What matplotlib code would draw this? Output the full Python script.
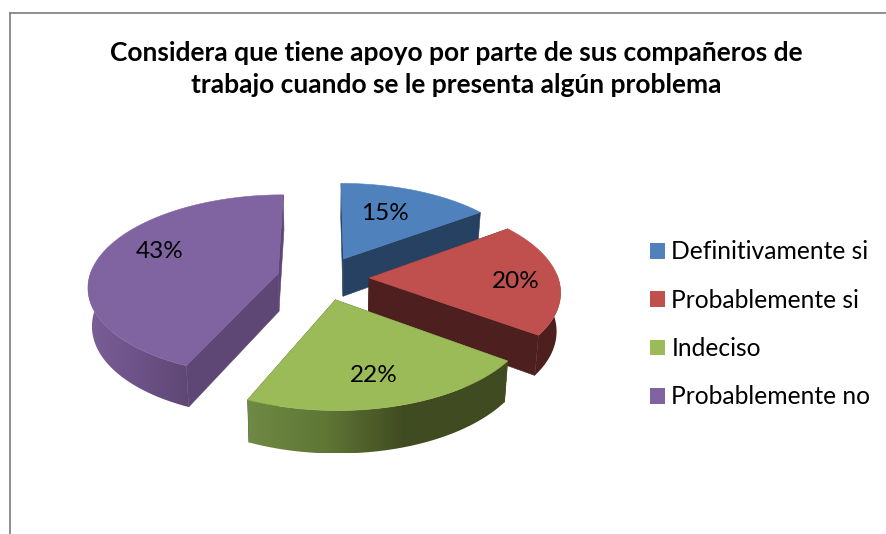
import numpy as np
import matplotlib
matplotlib.use("Agg")
import matplotlib.pyplot as plt
from matplotlib.colors import LinearSegmentedColormap
from matplotlib.patches import Patch, Polygon

title = "Considera que tiene apoyo por parte de sus compañeros de\ntrabajo cuando se le presenta algún problema"
labels = ["Definitivamente si", "Probablemente si", "Indeciso", "Probablemente no"]
values = [15, 20, 21.6, 43.4]

top_colors = ["#4F81BD", "#C0504D", "#9BBB59", "#8064A2"]
face_colors = ["#264161", "#4E1F1F", "#404B21", "#5F4775"]
# wall shading from left to right of each slice
wall_stops = [
    [(0, "#264161"), (1, "#2F4F78")],
    [(0, "#4E1F1F"), (0.8, "#4E1F1F"), (1, "#6A2A28")],
    [(0, "#6F8A44"), (0.3, "#5F7635"), (0.6, "#404B21"), (1, "#404B21")],
    [(0, "#7A5F98"), (0.5, "#6C5287"), (1, "#5F4775")],
]

# 3d look of the pie, in pixels of the picture
CX, CY = 323, 278
RX, RY = 189, 90
PERSP = 0.13
EXPLODE = 0.244
DEPTH = 38
BOTTOM_SCALE = 0.983


def project(u, v, bottom=False):
    w = 1 + PERSP * v
    x = RX * u / w
    y = RY * v / w
    if bottom:
        return CX + x * BOTTOM_SCALE, CY - y * BOTTOM_SCALE + DEPTH / w
    return CX + x, CY - y


fig = plt.figure(figsize=(8.86, 5.34), dpi=100)
ax = fig.add_axes([0, 0, 1, 1])
ax.axis("off")

# chart frame, only top and left show up in the picture
ax.plot([10, 886], [12.5, 12.5], color="#868686", lw=1.3, zorder=1)
ax.plot([10, 10], [12.5, 534], color="#868686", lw=1.3, zorder=1)

fractions = np.array(values) / sum(values)
ends = np.cumsum(fractions) * 2 * np.pi
starts = ends - fractions * 2 * np.pi

z = 2
# back to front: blue, red, purple, green
for i in [0, 1, 3, 2]:
    a0, a1 = starts[i], ends[i]
    mid = (a0 + a1) / 2
    ou, ov = EXPLODE * np.sin(mid), EXPLODE * np.cos(mid)
    th = np.linspace(a0, a1, 200)
    u, v = ou + np.sin(th), ov + np.cos(th)

    # cut faces
    for a in (a0, a1):
        t = np.linspace(0, 1, 30)
        fu, fv = ou + t * np.sin(a), ov + t * np.cos(a)
        tx, ty = project(fu, fv)
        bx, by = project(fu, fv, bottom=True)
        pts = np.r_[np.c_[tx, ty], np.c_[bx, by][::-1]]
        ax.add_patch(Polygon(pts, closed=True, fc=face_colors[i], ec=face_colors[i], lw=0.4, zorder=z))
        z += 1

    # outer wall, only the part facing the viewer, gradient clipped to its outline
    front = np.cos(th) <= 0.05
    if front.sum() > 1:
        tx, ty = project(u[front], v[front])
        bx, by = project(u[front], v[front], bottom=True)
        wall = Polygon(np.r_[np.c_[tx, ty], np.c_[bx, by][::-1]], closed=True, fc="none", ec="none",
                       transform=ax.transData)
        cmap = LinearSegmentedColormap.from_list(f"wall{i}", wall_stops[i])
        extent = (min(tx.min(), bx.min()), max(tx.max(), bx.max()), by.max(), ty.min())
        im = ax.imshow(np.linspace(0, 1, 256).reshape(1, -1), cmap=cmap, extent=extent,
                       aspect="auto", zorder=z, interpolation="bilinear")
        ax.add_patch(wall)
        im.set_clip_path(wall)
        z += 1

    # top surface
    top_pts = np.c_[project(np.r_[ou, u], np.r_[ov, v])]
    ax.add_patch(Polygon(top_pts, closed=True, fc=top_colors[i], ec=top_colors[i], lw=0.4, zorder=z))
    z += 1

ax.set_xlim(0, 886)
ax.set_ylim(534, 0)

# percent labels
label_x = [385, 516, 374, 160]
label_y = [214, 282, 376, 252]
for val, lx, ly in zip(values, label_x, label_y):
    ax.text(lx, ly, f"{round(val)}%", ha="center", va="center", fontsize=17.5,
            family="Lato", color="black", zorder=z)

ax.text(456.5, 69, title, ha="center", va="center", fontsize=19, family="Lato",
        fontweight="bold", color="black", linespacing=1.36)

handles = [Patch(fc=c, ec="none") for c in top_colors]
ax.legend(handles, labels, loc="upper left", bbox_to_anchor=(650 / 886, 1 - 240.5 / 534),
          frameon=False, prop={"family": "Lato", "size": 17.7}, labelspacing=1.03,
          handlelength=0.61, handleheight=0.61, handletextpad=0.26, borderpad=0, borderaxespad=0)

fig.savefig("out.png", dpi=100)
